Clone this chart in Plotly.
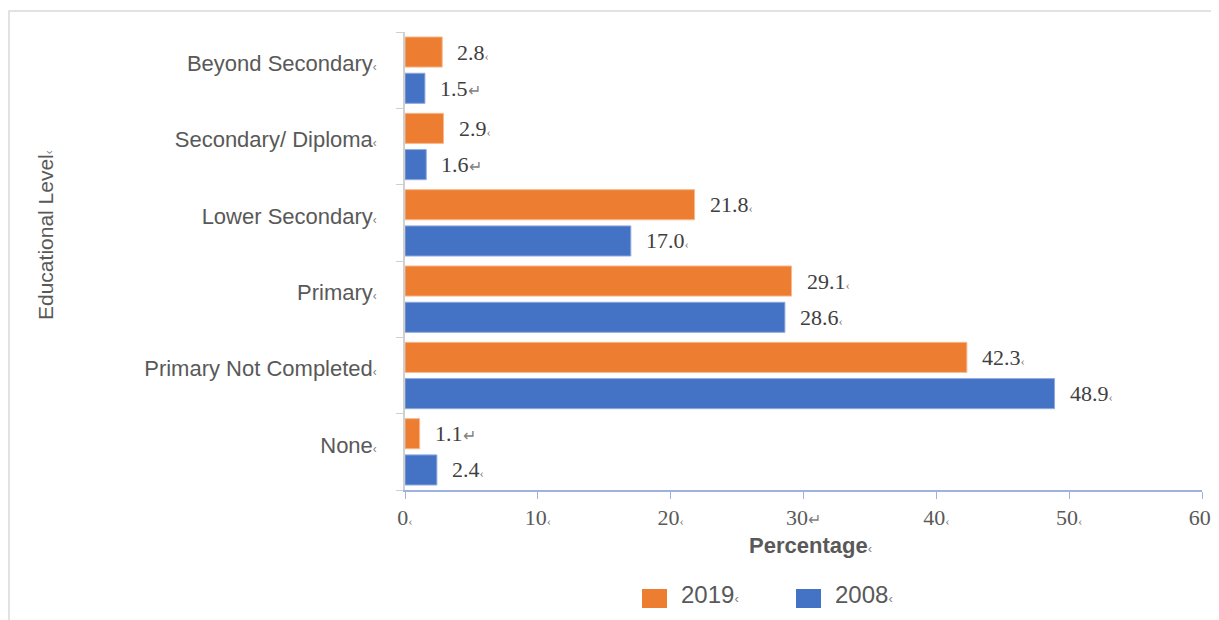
import plotly.graph_objects as go

# categories, top to bottom as shown
levels = ["Beyond Secondary", "Secondary/ Diploma", "Lower Secondary",
          "Primary", "Primary Not Completed", "None"]
series = ["2019", "2008"]
vals_2019 = [2.8, 2.9, 21.8, 29.1, 42.3, 1.1]
vals_2008 = [1.5, 1.6, 17.0, 28.6, 48.9, 2.4]
# little Word formatting marks that trail the labels
marks_2019 = ["‹", "‹", "‹", "‹", "‹", "↵"]
marks_2008 = ["↵", "↵", "‹", "‹", "‹", "‹"]
x_ticks = [0, 10, 20, 30, 40, 50, 60]
x_tick_marks = ["‹", "‹", "‹", "↵", "‹", "‹", "‹"]

ORANGE = "#ED7D31"
BLUE = "#4472C4"
OFF = 8  # page body margin
W, H = 1219 - OFF, 620 - OFF
L, R, T, B = 405 - OFF, 17, 32 - OFF, 130
pw, ph = W - L - R, H - T - B


# page pixel -> paper coords
def px_x(p):
    return (p - OFF - L) / pw


def px_y(p):
    return (H - B - (p - OFF)) / ph


def mark(m, size=14):
    return f"<span style='font-size:{size}px;color:#7f7f7f'>{m}</span>"


def mk(m):
    return mark(m, 16 if m == "↵" else 13)


fig = go.Figure()
fig.add_trace(go.Bar(y=levels, x=vals_2019, orientation="h", name=series[0],
                     marker=dict(color=ORANGE, line=dict(color="#f6b98f", width=1))))
fig.add_trace(go.Bar(y=levels, x=vals_2008, orientation="h", name=series[1],
                     marker=dict(color=BLUE, line=dict(color="#8faadc", width=1))))

# value labels
lab_font = dict(family="Liberation Serif, Times New Roman, serif", size=22, color="#404040")
for vals, marks, shift in [(vals_2019, marks_2019, 18), (vals_2008, marks_2008, -18)]:
    for lvl, v, m in zip(levels, vals, marks):
        fig.add_annotation(x=v, y=lvl, xref="x", yref="y", text=f"{v:.1f}" + mk(m),
                           showarrow=False, xanchor="left", yanchor="middle",
                           xshift=13, yshift=shift, font=lab_font)

# axis titles
fig.add_annotation(x=px_x(45), y=px_y(235), xref="paper", yref="paper",
                   xanchor="center", yanchor="middle",
                   text="Educational Level" + mark("‹", 12), textangle=-90, showarrow=False,
                   font=dict(family="Liberation Sans, Arial, sans-serif", size=21, color="#595959"))
fig.add_annotation(x=px_x(810), y=px_y(545), xref="paper", yref="paper",
                   xanchor="center", yanchor="middle",
                   text="<b>Percentage</b>" + mark("‹", 13), showarrow=False,
                   font=dict(family="Liberation Sans, Arial, sans-serif", size=22, color="#595959"))

# hand-drawn legend
for name, col, sx in [(series[0], ORANGE, 642), (series[1], BLUE, 796)]:
    fig.add_shape(type="rect", xref="paper", yref="paper",
                  x0=px_x(sx), x1=px_x(sx + 25), y0=px_y(608), y1=px_y(589),
                  fillcolor=col, line=dict(width=0))
    fig.add_annotation(x=px_x(sx + 37), y=px_y(594), xref="paper", yref="paper",
                       xanchor="left", yanchor="middle",
                       text=name + mark("‹", 13), showarrow=False,
                       font=dict(family="Liberation Sans, Arial, sans-serif", size=24, color="#595959"))

# outer frame
fig.add_shape(type="rect", xref="paper", yref="paper",
              x0=px_x(9), x1=px_x(1260), y0=px_y(660), y1=px_y(11),
              line=dict(color="#d9d9d9", width=1.5), fillcolor="rgba(0,0,0,0)", layer="below")

fig.update_layout(
    width=W, height=H,
    margin=dict(l=L, r=R, t=T, b=B),
    paper_bgcolor="white", plot_bgcolor="white",
    barmode="group", bargap=0.05, bargroupgap=0.17,
    showlegend=False,
    xaxis=dict(range=[0, 60], tickvals=x_ticks, automargin=False,
               ticktext=[f"{t}" + mk(m) for t, m in zip(x_ticks, x_tick_marks)],
               showgrid=False, zeroline=False, showline=True, linecolor="#9db3de", linewidth=1.5,
               ticks="outside", ticklen=7, tickcolor="#9db3de",
               tickfont=dict(family="Liberation Serif, Times New Roman, serif", size=22, color="#595959")),
    yaxis=dict(autorange="reversed", automargin=False, showgrid=False, showline=True,
               linecolor="#d0d0d0", linewidth=1.5,
               ticks="outside", tickson="boundaries", ticklen=7, tickcolor="#d0d0d0",
               ticktext=[lv + mark("‹", 12) for lv in levels], tickvals=levels,
               ticklabelstandoff=22, ticklabelshift=7,
               tickfont=dict(family="Liberation Sans, Arial, sans-serif", size=22, color="#595959")),
)

fig.write_html("out.html")
